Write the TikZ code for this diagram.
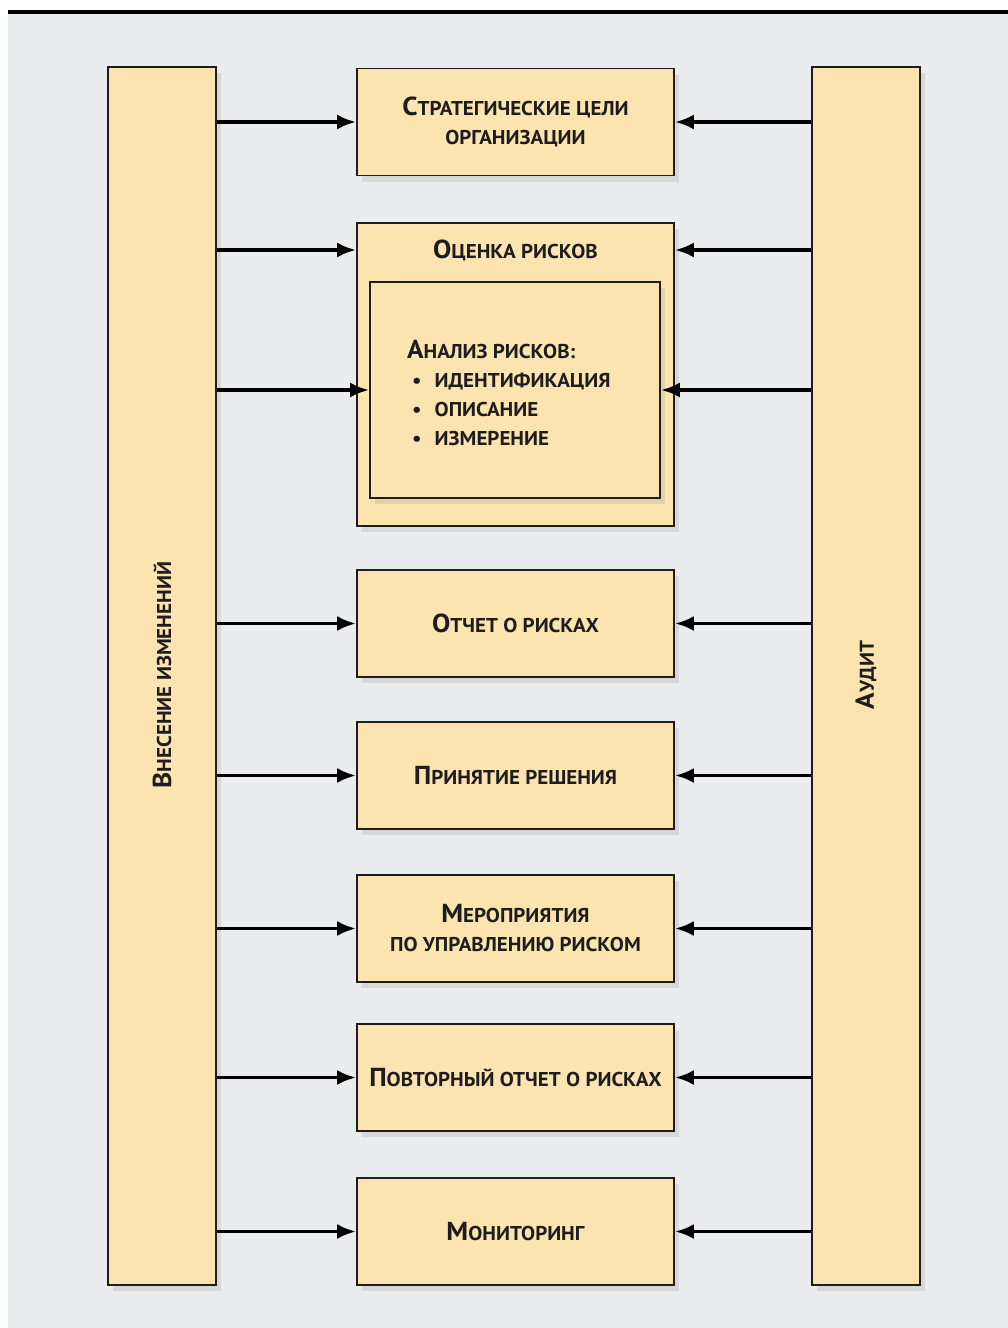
\documentclass[tikz,border=0pt]{standalone}
\usepackage{fontspec}
\setmainfont{PT Sans}[FakeStretch=1.05]
\usetikzlibrary{arrows.meta,shadows}
\definecolor{bgray}{RGB}{235,236,238}
\definecolor{boxfill}{RGB}{252,228,176}
\definecolor{ink}{RGB}{30,28,28}
\newcommand\BigC[1]{{\fontsize{26}{29}\selectfont #1}}
\newcommand\SmC[1]{{\fontsize{20}{29}\selectfont #1}}
\tikzset{
  boxst/.style={draw=ink, line width=1.6pt, fill=boxfill, text=ink,
     font=\bfseries\fontsize{20}{29}\selectfont, align=center, inner sep=0pt,
     drop shadow={opacity=0.18, shadow xshift=5pt, shadow yshift=-6pt}},
  arr/.style={line width=3.8pt, draw=black, -{Latex[length=19pt,width=15pt]}},
  lbl/.style={text=ink, font=\bfseries\fontsize{20}{29}\selectfont, align=left, inner sep=0pt}
}
\begin{document}
\begin{tikzpicture}[x=1pt,y=-1pt]
\useasboundingbox (0,0) rectangle (1008,1328);
\fill[white] (0,0) rectangle (1008,1328);
\fill[bgray] (8,13) rectangle (1008,1328);
\draw[line width=4pt, black] (8,12) -- (1008,12);
% side boxes
\node[boxst, minimum width=108pt, minimum height=1218pt] (L) at (162,676) {};
\node[boxst, minimum width=108pt, minimum height=1218pt] (R) at (866,676) {};
\node[lbl, rotate=90] (Ltxt) at (162,675) {\BigC{В}\SmC{НЕСЕНИЕ ИЗМЕНЕНИЙ}};
\node[lbl, rotate=90] (Rtxt) at (866,675) {\BigC{А}\SmC{УДИТ}};
% centre boxes
\node[boxst, minimum width=317pt, minimum height=107pt] (B1) at (515.5,122)
  {\BigC{С}\SmC{ТРАТЕГИЧЕСКИЕ ЦЕЛИ}\\\SmC{ОРГАНИЗАЦИИ}};
\node[boxst, minimum width=317pt, minimum height=303pt] (B2) at (515.5,374.5) {};
\node[lbl] (B2t) at (515.5,250) {\BigC{О}\SmC{ЦЕНКА РИСКОВ}};
\node[boxst, minimum width=290pt, minimum height=216pt] (B2i) at (515,390) {};
\node[lbl, anchor=north west] (B2it) at (407,338) {%
  \begin{tabular}{@{}l@{}}
  \BigC{А}\SmC{НАЛИЗ РИСКОВ:}\\
  \hspace{5pt}\textbullet\hspace{13pt}ИДЕНТИФИКАЦИЯ\\
  \hspace{5pt}\textbullet\hspace{13pt}ОПИСАНИЕ\\
  \hspace{5pt}\textbullet\hspace{13pt}ИЗМЕРЕНИЕ
  \end{tabular}};
\node[boxst, minimum width=317pt, minimum height=107pt] (B3) at (515.5,623.5)
  {\BigC{О}\SmC{ТЧЕТ О РИСКАХ}};
\node[boxst, minimum width=317pt, minimum height=107pt] (B4) at (515.5,775.5)
  {\BigC{П}\SmC{РИНЯТИЕ РЕШЕНИЯ}};
\node[boxst, minimum width=317pt, minimum height=107pt] (B5) at (515.5,928.5)
  {\BigC{М}\SmC{ЕРОПРИЯТИЯ}\\\SmC{ПО УПРАВЛЕНИЮ РИСКОМ}};
\node[boxst, minimum width=317pt, minimum height=107pt] (B6) at (515.5,1077.5)
  {\BigC{П}\SmC{ОВТОРНЫЙ ОТЧЕТ О РИСКАХ}};
\node[boxst, minimum width=317pt, minimum height=107pt] (B7) at (515.5,1231.5)
  {\BigC{М}\SmC{ОНИТОРИНГ}};
% arrows from left
\draw[arr] (L.east |- B1) -- (B1.west);
\draw[arr] (L.east |- B2t) -- (B2.west |- B2t);
\draw[arr] (L.east |- B2i) -- (B2i.west);
\draw[arr] (L.east |- B3) -- (B3.west);
\draw[arr] (L.east |- B4) -- (B4.west);
\draw[arr] (L.east |- B5) -- (B5.west);
\draw[arr] (L.east |- B6) -- (B6.west);
\draw[arr] (L.east |- B7) -- (B7.west);
% arrows from right
\draw[arr] (R.west |- B1) -- (B1.east);
\draw[arr] (R.west |- B2t) -- (B2.east |- B2t);
\draw[arr] (R.west |- B2i) -- (B2i.east);
\draw[arr] (R.west |- B3) -- (B3.east);
\draw[arr] (R.west |- B4) -- (B4.east);
\draw[arr] (R.west |- B5) -- (B5.east);
\draw[arr] (R.west |- B6) -- (B6.east);
\draw[arr] (R.west |- B7) -- (B7.east);
\end{tikzpicture}
\end{document}
